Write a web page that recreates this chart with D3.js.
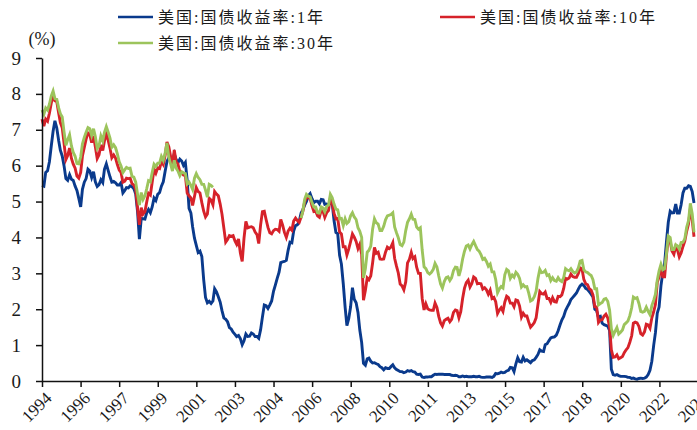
<!DOCTYPE html>
<html>
<head>
<meta charset="utf-8">
<script src="https://cdn.jsdelivr.net/npm/d3@7"></script>
<style>
  html, body { margin: 0; padding: 0; background: #fff; }
  svg { display: block; }
  text { font-family: "Liberation Serif", "Times New Roman", "Noto Sans CJK SC", serif; fill: #1a1a1a; }
</style>
</head>
<body>
<svg id="chart" width="697" height="430"></svg>
<script>
// Monthly US Treasury constant-maturity yields (%), May 1994 – Dec 2023
const firstMonth = [1994, 4]; // year, zero-based month

const yield1y = [
  5.45,5.43,5.81,5.86,6.11,6.54,6.96,7.25,
  7.05,6.70,6.43,6.27,6.00,5.64,5.59,5.75,5.62,5.59,5.43,5.31,
  5.09,4.85,5.34,5.54,5.64,5.90,5.85,5.67,5.83,5.55,5.42,5.47,
  5.61,5.53,5.90,6.05,5.87,5.69,5.54,5.56,5.52,5.46,5.46,5.53,
  5.24,5.31,5.39,5.38,5.44,5.41,5.36,5.21,4.71,3.95,4.53,4.52,
  4.51,4.70,4.78,4.69,4.85,5.10,5.03,5.20,5.25,5.43,5.55,5.84,
  6.12,6.22,6.22,6.15,6.33,6.17,6.08,6.18,6.13,6.01,6.09,5.60,
  4.81,4.68,4.30,3.98,3.78,3.58,3.62,3.47,2.82,2.33,2.18,2.22,
  2.16,2.23,2.57,2.48,2.35,2.20,1.96,1.76,1.72,1.65,1.49,1.45,
  1.36,1.30,1.24,1.27,1.18,1.01,1.12,1.31,1.24,1.25,1.34,1.31,
  1.24,1.24,1.19,1.43,1.78,2.12,2.10,2.02,2.12,2.23,2.50,2.67,
  2.86,3.03,3.30,3.32,3.33,3.36,3.64,3.87,3.85,4.18,4.33,4.35,
  4.45,4.68,4.77,4.90,5.00,5.16,5.22,5.08,4.97,5.01,5.01,4.94,
  5.06,5.05,4.92,4.93,4.91,4.96,4.96,4.47,4.14,4.10,3.50,3.26,
  2.71,2.05,1.54,1.74,2.06,2.60,2.28,2.18,1.91,1.42,1.07,0.49,
  0.44,0.62,0.64,0.55,0.50,0.51,0.48,0.46,0.40,0.37,0.31,0.37,
  0.35,0.35,0.40,0.45,0.37,0.32,0.29,0.26,0.26,0.23,0.25,0.29,
  0.27,0.29,0.26,0.25,0.19,0.18,0.19,0.11,0.10,0.11,0.11,0.12,
  0.12,0.16,0.19,0.18,0.19,0.19,0.19,0.18,0.18,0.18,0.18,0.16,
  0.15,0.16,0.15,0.12,0.12,0.14,0.12,0.13,0.12,0.12,0.12,0.13,
  0.12,0.12,0.13,0.11,0.10,0.10,0.11,0.11,0.11,0.10,0.13,0.21,
  0.20,0.22,0.25,0.23,0.24,0.28,0.30,0.38,0.37,0.26,0.48,0.65,
  0.54,0.53,0.66,0.56,0.59,0.55,0.51,0.57,0.59,0.66,0.74,0.87,
  0.83,0.82,1.01,1.04,1.12,1.20,1.22,1.23,1.28,1.40,1.56,1.70,
  1.80,1.96,2.06,2.15,2.27,2.33,2.39,2.45,2.56,2.65,2.70,2.66,
  2.58,2.55,2.49,2.42,2.34,2.00,1.96,1.77,1.80,1.61,1.57,1.55,
  1.53,1.41,0.33,0.18,0.16,0.18,0.15,0.13,0.13,0.13,0.12,0.10,
  0.10,0.07,0.08,0.06,0.05,0.07,0.08,0.07,0.08,0.11,0.18,0.30,
  0.55,1.00,1.34,1.89,2.06,2.65,3.02,3.28,3.89,4.43,4.73,4.68,
  4.69,4.93,4.68,4.68,4.91,5.24,5.37,5.37,5.44,5.42,5.28,4.96
];

const yield10y = [
  7.30,7.10,7.30,7.24,7.46,7.74,7.96,7.81,
  7.78,7.47,7.20,7.06,6.63,6.17,6.28,6.49,6.20,6.04,5.93,5.71,
  5.65,5.81,6.27,6.51,6.74,6.91,6.87,6.64,6.83,6.53,6.20,6.30,
  6.58,6.42,6.69,6.89,6.71,6.49,6.22,6.30,6.21,6.03,5.88,5.81,
  5.54,5.57,5.65,5.64,5.65,5.50,5.46,5.34,4.81,4.35,4.83,4.65,
  4.72,5.00,5.23,5.18,5.54,5.90,5.79,5.94,5.92,6.11,6.03,6.28,
  6.66,6.52,6.26,5.99,6.44,6.10,6.05,5.83,5.80,5.74,5.72,5.24,
  5.16,5.10,4.89,5.14,5.39,5.28,5.24,4.97,4.73,4.57,4.65,5.09,
  5.04,4.91,5.28,5.21,5.16,4.93,4.65,4.26,3.87,3.94,4.05,4.03,
  4.05,3.90,3.81,3.96,3.57,3.33,3.98,4.45,4.27,4.29,4.30,4.27,
  4.15,4.08,3.83,4.35,4.72,4.73,4.50,4.28,4.13,4.10,4.19,4.23,
  4.22,4.17,4.50,4.34,4.14,4.00,4.18,4.26,4.20,4.46,4.54,4.47,
  4.42,4.57,4.72,4.99,5.11,5.11,5.09,4.88,4.72,4.73,4.60,4.56,
  4.76,4.72,4.56,4.69,4.75,5.10,5.00,4.67,4.52,4.53,4.15,4.10,
  3.74,3.74,3.51,3.68,3.88,4.10,4.01,3.89,3.69,3.81,3.53,2.25,
  2.52,2.87,2.82,2.93,3.29,3.72,3.56,3.59,3.40,3.39,3.40,3.59,
  3.73,3.69,3.73,3.85,3.42,3.20,3.01,2.70,2.65,2.54,2.76,3.29,
  3.39,3.58,3.41,3.46,3.17,3.00,3.00,2.30,1.98,2.15,2.01,1.98,
  1.97,1.97,2.17,2.05,1.80,1.62,1.53,1.68,1.72,1.75,1.65,1.72,
  1.91,1.98,1.96,1.76,1.93,2.30,2.58,2.74,2.81,2.62,2.72,2.90,
  2.86,2.71,2.72,2.71,2.56,2.60,2.54,2.42,2.53,2.30,2.33,2.21,
  1.88,1.98,2.04,1.94,2.20,2.36,2.32,2.17,2.17,2.07,2.26,2.24,
  2.09,1.78,1.89,1.81,1.81,1.64,1.50,1.56,1.63,1.76,2.14,2.49,
  2.43,2.42,2.48,2.30,2.30,2.19,2.32,2.21,2.20,2.36,2.35,2.40,
  2.58,2.86,2.84,2.87,2.98,2.91,2.89,2.89,3.00,3.15,3.12,2.83,
  2.71,2.68,2.57,2.53,2.40,2.07,2.06,1.63,1.70,1.71,1.81,1.86,
  1.76,1.50,0.87,0.66,0.67,0.73,0.62,0.65,0.68,0.79,0.87,0.93,
  1.08,1.26,1.61,1.64,1.62,1.52,1.32,1.28,1.37,1.58,1.56,1.47,
  1.76,1.93,2.13,2.75,2.90,3.14,2.90,2.90,3.52,3.98,3.89,3.62,
  3.53,3.75,3.66,3.46,3.57,3.75,3.90,4.17,4.38,4.80,4.50,4.02
];

// 30-year issue was suspended from early 2002 to early 2006
const yield30y = [
  7.55,7.43,7.61,7.55,7.71,7.94,8.08,7.87,
  7.85,7.61,7.45,7.36,6.95,6.57,6.72,6.86,6.55,6.37,6.26,6.06,
  6.05,6.24,6.60,6.79,6.93,7.06,7.03,6.84,7.03,6.81,6.48,6.55,
  6.83,6.69,6.93,7.09,6.94,6.77,6.51,6.58,6.50,6.33,6.11,5.99,
  5.81,5.89,5.95,5.92,5.93,5.70,5.68,5.54,5.20,4.90,5.25,5.06,
  5.16,5.37,5.58,5.55,5.81,6.04,5.98,6.07,6.07,6.26,6.15,6.35,
  6.63,6.23,6.05,5.85,6.15,5.93,5.85,5.72,5.83,5.80,5.78,5.49,
  5.54,5.45,5.34,5.65,5.78,5.67,5.61,5.48,5.48,5.32,5.12,5.48,
  5.45,5.40,null,null,null,null,null,null,null,null,null,null,
  null,null,null,null,null,null,null,null,null,null,null,null,
  null,null,null,null,null,null,null,null,null,null,null,null,
  null,null,null,null,null,null,null,null,null,null,null,null,
  null,4.54,4.73,5.06,5.20,5.15,5.13,4.97,4.85,4.85,4.69,4.68,
  4.85,4.82,4.72,4.87,4.90,5.20,5.11,4.93,4.79,4.77,4.52,4.53,
  4.33,4.52,4.39,4.44,4.60,4.69,4.57,4.50,4.27,4.17,4.00,2.87,
  3.13,3.59,3.64,3.76,4.23,4.52,4.41,4.37,4.19,4.19,4.31,4.49,
  4.60,4.62,4.64,4.69,4.29,4.13,3.99,3.80,3.77,3.87,4.19,4.42,
  4.52,4.65,4.51,4.50,4.29,4.23,4.27,3.65,3.18,3.13,3.02,2.98,
  3.03,3.11,3.28,3.18,2.93,2.70,2.59,2.77,2.88,2.90,2.80,2.88,
  3.08,3.17,3.16,2.93,3.11,3.40,3.61,3.76,3.79,3.68,3.80,3.89,
  3.77,3.66,3.62,3.52,3.39,3.42,3.33,3.20,3.26,3.04,3.04,2.83,
  2.46,2.57,2.63,2.59,2.96,3.11,3.07,2.86,2.95,2.89,3.03,2.97,
  2.86,2.62,2.68,2.62,2.63,2.45,2.23,2.26,2.35,2.50,2.86,3.11,
  3.02,3.03,3.08,2.94,2.96,2.80,2.88,2.80,2.78,2.88,2.80,2.77,
  2.88,3.13,3.09,3.07,3.13,3.05,3.01,3.04,3.15,3.34,3.36,3.10,
  3.04,3.02,2.98,2.94,2.82,2.57,2.57,2.12,2.16,2.19,2.28,2.30,
  2.22,1.97,1.46,1.27,1.38,1.49,1.31,1.36,1.42,1.57,1.62,1.67,
  1.82,2.04,2.34,2.30,2.32,2.16,1.94,1.92,1.94,2.06,1.94,1.85,
  2.10,2.25,2.41,2.81,3.07,3.25,3.10,3.13,3.56,4.04,4.00,3.66,
  3.66,3.80,3.77,3.68,3.86,3.87,3.96,4.28,4.47,4.95,4.66,4.14
];

const seriesNames = ["美国:国债收益率:1年", "美国:国债收益率:10年", "美国:国债收益率:30年"];
const seriesColors = ["#0a3a8c", "#d6222a", "#9cc45c"];

const yTicks = [0, 1, 2, 3, 4, 5, 6, 7, 8, 9];
const xTickLabels = ["1994","1996","1997","1999","2001","2003","2004","2006","2008",
                     "2010","2011","2013","2015","2017","2018","2020","2022","2024"];

// ---- layout ----
const margin = { left: 42, top: 58, bottom: 381, right: 698 };
const svg = d3.select("#chart");

// one date per monthly observation, placed mid-month
const months = yield1y.map((_, i) => new Date(firstMonth[0], firstMonth[1] + i, 15));
const axisStart = months[0];
const axisEnd = new Date(2024, 1, 19);

const x = d3.scaleTime().domain([axisStart, axisEnd]).range([margin.left, margin.right]);
const y = d3.scaleLinear().domain([0, 9]).range([margin.bottom, margin.top]);

// evenly spaced date ticks across the axis span
const tickDates = xTickLabels.map((_, i) =>
  new Date(+axisStart + i * (axisEnd - axisStart) / (xTickLabels.length - 1)));

// ---- series lines (1Y under 10Y under 30Y) ----
const series = [yield1y, yield10y, yield30y].map((vals, k) => ({
  name: seriesNames[k],
  color: seriesColors[k],
  points: vals.map((v, i) => ({ date: months[i], value: v }))
}));

const line = d3.line()
  .defined(d => d.value != null)
  .x(d => x(d.date))
  .y(d => y(d.value));

svg.append("g")
  .selectAll("path")
  .data(series)
  .join("path")
  .attr("fill", "none")
  .attr("stroke", d => d.color)
  .attr("stroke-width", 2.9)
  .attr("stroke-linejoin", "miter")
  .attr("d", d => line(d.points));

// ---- axes ----
const yAxis = svg.append("g")
  .attr("transform", `translate(${margin.left},0)`)
  .call(d3.axisLeft(y).tickValues(yTicks).tickFormat(d3.format("d")).tickSize(6).tickSizeOuter(0).tickPadding(15));
yAxis.selectAll("text").style("font-size", "19px");

const xAxis = svg.append("g")
  .attr("transform", `translate(0,${margin.bottom})`)
  .call(d3.axisBottom(x).tickValues(tickDates).tickFormat((d, i) => xTickLabels[i]).tickSize(6).tickSizeOuter(0));
xAxis.selectAll("text")
  .style("font-size", "17px")
  .attr("text-anchor", "end")
  .attr("x", 0)
  .attr("y", 0)
  .attr("dy", "0.35em")
  .attr("transform", "translate(6,14) rotate(-45)");

[yAxis, xAxis].forEach(g => {
  g.select(".domain").attr("stroke", "#111").attr("stroke-width", 1.5);
  g.selectAll(".tick line").attr("stroke", "#111").attr("stroke-width", 1.5);
});

// unit label
svg.append("text")
  .attr("x", 42).attr("y", 45)
  .attr("text-anchor", "middle")
  .style("font-size", "18px")
  .text("(%)");

// ---- legend ----
const legendPos = [[118, 17], [440, 17], [118, 43]];
const legend = svg.append("g")
  .selectAll("g")
  .data(series)
  .join("g")
  .attr("transform", (d, i) => `translate(${legendPos[i][0]},${legendPos[i][1]})`);

legend.append("line")
  .attr("x1", 0).attr("x2", 35)
  .attr("stroke", d => d.color)
  .attr("stroke-width", 2.6);

legend.append("text")
  .attr("x", 40)
  .attr("dy", "0.36em")
  .style("font-size", "16px")
  .style("letter-spacing", "2px")
  .text(d => d.name);
</script>
</body>
</html>
